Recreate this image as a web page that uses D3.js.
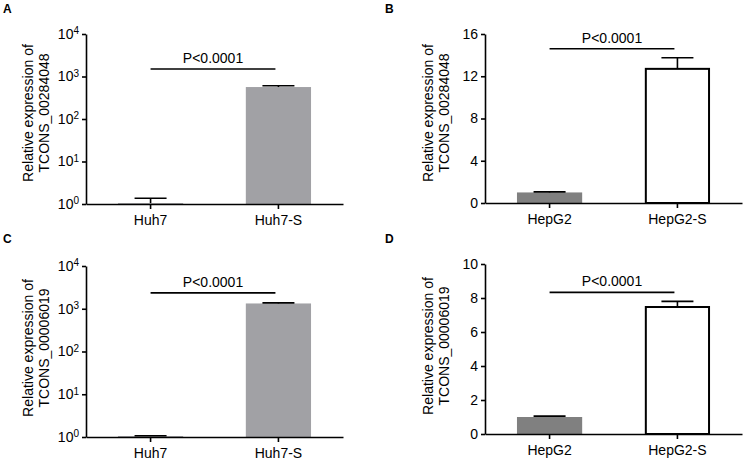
<!DOCTYPE html>
<html>
<head>
<meta charset="utf-8">
<script src="https://cdn.jsdelivr.net/npm/d3@7"></script>
<style>
  body { margin: 0; background: #fff; }
  svg { font-family: "Liberation Sans", Arial, sans-serif; }
  .axis path, .axis line { stroke: #000; stroke-width: 1.6; }
  .axis text { font-size: 14px; fill: #000; }
</style>
</head>
<body>
<script>
"use strict";

// Canvas
let w = 744;
let h = 460;

// Groups
let huh7Groups = ["Huh7", "Huh7-S"];
let hepg2Groups = ["HepG2", "HepG2-S"];

// A: TCONS_00284048 in Huh7 (log scale)
let aMean = [1.05, 565];
let aErr = [0.32, 40];
// B: TCONS_00284048 in HepG2
let bMean = [1.0, 12.7];
let bErr = [0.05, 1.05];
// C: TCONS_00006019 in Huh7 (log scale)
let cMean = [1.05, 1330];
let cErr = [0.02, 40];
// D: TCONS_00006019 in HepG2
let dMean = [1.0, 7.47];
let dErr = [0.05, 0.33];

// Axis ticks
let logTicks = [1, 10, 100, 1000, 10000];
let bTicks = [0, 4, 8, 12, 16];
let dTicks = [0, 2, 4, 6, 8, 10];

let pText = "P<0.0001";
let yLabelTop = "Relative expression of";

let svg = d3.select("body").append("svg")
    .attr("width", w)
    .attr("height", h);

// draw one panel
function panel(cfg) {
    let g = svg.append("g");

    let x = d3.scaleBand()
        .domain(cfg.groups)
        .range([cfg.x0, cfg.x1])
        .paddingInner(0.49)
        .paddingOuter(0.25);

    let y;
    if (cfg.log) {
        y = d3.scaleLog().domain([1, 10000]).range([cfg.yb, cfg.yt]);
    } else {
        y = d3.scaleLinear().domain([0, cfg.ticks[cfg.ticks.length - 1]]).range([cfg.yb, cfg.yt]);
    }
    let base = cfg.log ? 1 : 0;

    let rows = cfg.groups.map((k, i) => ({k: k, m: cfg.mean[i], e: cfg.err[i], fill: cfg.fills[i]}));

    // bars
    g.selectAll("rect.bar")
        .data(rows)
        .enter().append("rect")
        .attr("class", "bar")
        .attr("x", d => x(d.k) + (d.fill === "#fff" ? 1 : 0))
        .attr("width", d => x.bandwidth() - (d.fill === "#fff" ? 2 : 0))
        .attr("y", d => y(d.m))
        .attr("height", d => y(base) - y(d.m))
        .attr("fill", d => d.fill)
        .attr("stroke", d => d.fill === "#fff" ? "#000" : "none")
        .attr("stroke-width", 2);

    // error bars (upper only)
    let cx = d => x(d.k) + x.bandwidth() / 2;
    g.selectAll("line.stem")
        .data(rows)
        .enter().append("line")
        .attr("x1", cx).attr("x2", cx)
        .attr("y1", d => y(d.m))
        .attr("y2", d => y(d.m + d.e))
        .attr("stroke", "#000").attr("stroke-width", 1.6);
    g.selectAll("line.cap")
        .data(rows)
        .enter().append("line")
        .attr("x1", d => cx(d) - 16).attr("x2", d => cx(d) + 16)
        .attr("y1", d => y(d.m + d.e))
        .attr("y2", d => y(d.m + d.e))
        .attr("stroke", "#000").attr("stroke-width", 1.6);

    // y axis
    let yAxis = d3.axisLeft(y)
        .tickValues(cfg.ticks)
        .tickSize(4)
        .tickSizeOuter(0)
        .tickPadding(3);
    if (cfg.log) yAxis.tickFormat("");
    let ya = g.append("g")
        .attr("class", "axis")
        .attr("transform", `translate(${cfg.x0},0)`)
        .call(yAxis);
    if (cfg.log) {
        ya.selectAll(".tick text").each(function(d) {
            let t = d3.select(this);
            t.append("tspan").text("10");
            t.append("tspan")
                .attr("dy", "-0.45em")
                .style("font-size", "10px")
                .text(Math.round(Math.log10(d)));
        });
    }

    // x axis
    g.append("g")
        .attr("class", "axis")
        .attr("transform", `translate(0,${cfg.yb})`)
        .call(d3.axisBottom(x).tickSize(5).tickSizeOuter(0).tickPadding(6));

    // significance bar
    let sx0 = x(cfg.groups[0]) + x.bandwidth() / 2;
    let sx1 = x(cfg.groups[1]) + x.bandwidth() / 2 - 3;
    let sy = y(cfg.sig);
    g.append("line")
        .attr("x1", sx0).attr("x2", sx1)
        .attr("y1", sy).attr("y2", sy)
        .attr("stroke", "#000").attr("stroke-width", 1.6);
    g.append("text")
        .attr("x", (sx0 + sx1) / 2 + 0)
        .attr("y", sy - 6)
        .attr("text-anchor", "middle")
        .style("font-size", "14px")
        .text(pText);

    // y label
    let yl = g.append("text")
        .attr("transform", `translate(${cfg.labX},${cfg.labY}) rotate(-90)`)
        .attr("text-anchor", "middle")
        .style("font-size", "14px");
    yl.append("tspan").attr("x", 0).attr("y", 0).text(yLabelTop);
    yl.append("tspan").attr("x", 0).attr("y", 16).text(cfg.gene);

    // panel letter
    g.append("text")
        .attr("x", cfg.lx).attr("y", cfg.ly)
        .style("font-size", "12px")
        .style("font-weight", "bold")
        .text(cfg.letter);
}

let grayLight = "#a1a1a5";
let grayDark = "#808080";

panel({letter: "A", lx: 3, ly: 13, groups: huh7Groups, mean: aMean, err: aErr,
       fills: [grayLight, grayLight], log: true, ticks: logTicks, sig: 1500,
       x0: 86, x1: 343, yt: 34, yb: 204, labX: 33, labY: 113, gene: "TCONS_00284048"});
panel({letter: "B", lx: 385, ly: 13, groups: hepg2Groups, mean: bMean, err: bErr,
       fills: [grayDark, "#fff"], log: false, ticks: bTicks, sig: 14.6,
       x0: 485, x1: 742, yt: 34, yb: 203, labX: 433, labY: 113, gene: "TCONS_00284048"});
panel({letter: "C", lx: 3, ly: 243, groups: huh7Groups, mean: cMean, err: cErr,
       fills: [grayLight, grayLight], log: true, ticks: logTicks, sig: 2350,
       x0: 86, x1: 343, yt: 266, yb: 437, labX: 33, labY: 348, gene: "TCONS_00006019"});
panel({letter: "D", lx: 385, ly: 243, groups: hepg2Groups, mean: dMean, err: dErr,
       fills: [grayDark, "#fff"], log: false, ticks: dTicks, sig: 8.33,
       x0: 485, x1: 742, yt: 264, yb: 434, labX: 433, labY: 346, gene: "TCONS_00006019"});
</script>
</body>
</html>
